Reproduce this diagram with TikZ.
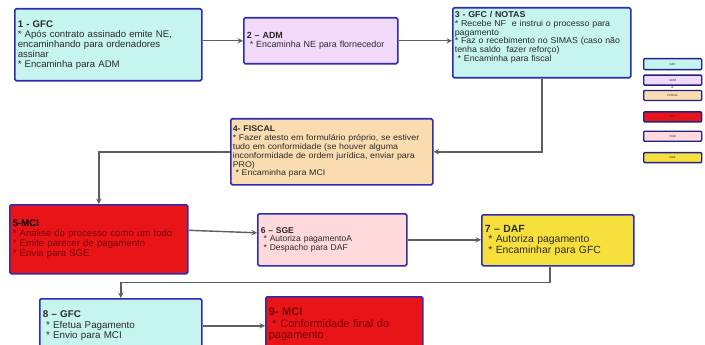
\documentclass[tikz,border=0pt]{standalone}
\usepackage{fontspec}
\setmainfont{Liberation Sans}
\usetikzlibrary{arrows,positioning}

\definecolor{gfccyan}{HTML}{C6F4EE}
\definecolor{admlilac}{HTML}{F2DAFA}
\definecolor{fiscalpeach}{HTML}{FADCB0}
\definecolor{mcired}{HTML}{E81418}
\definecolor{sgepink}{HTML}{FFD9DC}
\definecolor{dafyellow}{HTML}{F8E03C}
\definecolor{stageblue}{HTML}{2C2CB4}
\definecolor{stagetext}{HTML}{2A2A2A}
\definecolor{mcitext}{HTML}{7A0606}
\definecolor{flowgray}{HTML}{5E5E5E}
\definecolor{keyblue}{HTML}{20208C}

\begin{document}
\begin{tikzpicture}[x=1pt,y=-1pt,>=stealth]
	  \tikzstyle{stage}=[draw=stageblue,line width=1.6pt,rounded corners=1.5pt,anchor=north west,inner xsep=3pt,inner ysep=2pt,align=left,text=stagetext]
	  \tikzstyle{flow}=[draw=flowgray,line width=1.4pt,->]
	  \tikzstyle{key}=[draw=keyblue,line width=1.4pt,rounded corners=1pt,minimum width=58pt,minimum height=10pt,inner sep=0pt,text=stagetext,font=\fontsize{3}{3}\selectfont]

	  \clip (0,0) rectangle (705,345);
	  \fill[white] (0,0) rectangle (705,345);

	  % first row
	  \node[stage,fill=gfccyan,text width=181pt,minimum height=72pt,font=\fontsize{9.6}{10}\selectfont] (gfc1) at (14,8)
	    {\textbf{1 - GFC}\\{} * Após contrato assinado emite NE,\\encaminhando para ordenadores\\assinar\\{} * Encaminha para ADM};
	  \node[stage,fill=admlilac,text width=148pt,minimum height=46pt,font=\fontsize{8.9}{9}\selectfont] (adm2) at (243,17)
	    {\textbf{2 – ADM}\\ \ * Encaminha NE para flornecedor};
	  \node[stage,fill=gfccyan,text width=174pt,inner xsep=2pt,minimum height=70pt,font={\fontsize{8.5}{8.7}\selectfont\addfontfeature{FakeStretch=1.04}}] (notas3) at (452,7)
	    {\textbf{3 - GFC / NOTAS}\\{} * Recebe NF \ e instrui o processo para\\pagamento\\{} * Faz o recebimento no SIMAS (caso não\\tenha saldo \ fazer reforço)\\ \ * Encaminha para fiscal\\[4pt]\mbox{}};

	  % second row
	  \node[stage,fill=fiscalpeach,text width=198pt,inner xsep=2pt,minimum height=66pt,font={\fontsize{8.2}{8.8}\selectfont\addfontfeature{FakeStretch=1.08}}] (fiscal4) at (230,118)
	    {\textbf{4- FISCAL}\\{} * Fazer atesto em formulário próprio, se estiver\\tudo em conformidade (se houver alguma\\inconformidade de ordem jurídica, enviar para\\PRO)\\ \ * Encaminha para MCI};

	  % third row
	  \node[stage,fill=mcired,text width=172pt,minimum height=69pt,font=\fontsize{9.6}{10}\selectfont,text=mcitext] (mci5) at (9,204)
	    {\textcolor{black}{\textbf{5-MCI}}\\{}* Análise do processo como um todo\\{}* Emite parecer de pagamento\\{}* Envia para SGE};
	  \node[stage,fill=sgepink,text width=143pt,minimum height=52pt,font=\fontsize{8.5}{8.5}\selectfont] (sge6) at (257,213)
	    {\textbf{6 – SGE}\\ \ * Autoriza pagamentoA\\ \ * Despacho para DAF};
	  \node[stage,fill=dafyellow,text width=146pt,minimum height=51pt,font=\fontsize{10.4}{10.5}\selectfont] (daf7) at (481,214)
	    {\textbf{7 – DAF}\\ \ * Autoriza pagamento\\ \ * Encaminhar para GFC};

	  % last row
	  \node[stage,fill=gfccyan,text width=156pt,minimum height=54pt,font=\fontsize{9.8}{10.5}\selectfont] (gfc8) at (39,298)
	    {\textbf{8 – GFC}\\ \ * Efetua Pagamento\\ \ * Envio para MCI};
	  \node[stage,fill=mcired,text width=151pt,minimum height=56pt,font=\fontsize{11}{11.5}\selectfont,text=mcitext] (mci9) at (265,296)
	    {\textbf{9- MCI}\\ \ * Conformidade final do\\pagamento};

	  % legend
	  \node[key,fill=gfccyan,anchor=north west,minimum height=11pt] (kgfc) at (643,58) {GFC};
	  \node[key,fill=admlilac,below=4pt of kgfc] (kadm) {ADM};
	  \node[font=\fontsize{3}{3}\selectfont,inner sep=0.5pt,below=0pt of kadm] (ke) {E};
	  \node[key,fill=fiscalpeach,below=0.5pt of ke] (kfiscal) {FISCAL};
	  \node[key,fill=mcired,below=10pt of kfiscal] (kmci) {MCI};
	  \node[key,fill=sgepink,below=8pt of kmci] (ksge) {SGE};
	  \node[key,fill=dafyellow,below=10pt of ksge] (kdaf) {DAF};

	  % connectors
	  \draw[flow] (gfc1.east |- adm2.west) -- (adm2.west);
	  \draw[flow] (adm2.east) -- (adm2.east -| notas3.west);
	  \draw[flow] (notas3.south) |- (fiscal4.east);
	  \draw[flow] (fiscal4.west) -| (mci5.north);
	  \draw[flow] ([yshift=9pt]mci5.east) -- ([yshift=7pt]sge6.west);
	  \draw[flow] (sge6.east) -- (sge6.east -| daf7.west);
	  \draw[flow] ([xshift=-8pt]daf7.south) -- ++(0,16) -| (gfc8.north);
	  \draw[flow] (gfc8.east) -- (gfc8.east -| mci9.west);
	\end{tikzpicture}
\end{document}
